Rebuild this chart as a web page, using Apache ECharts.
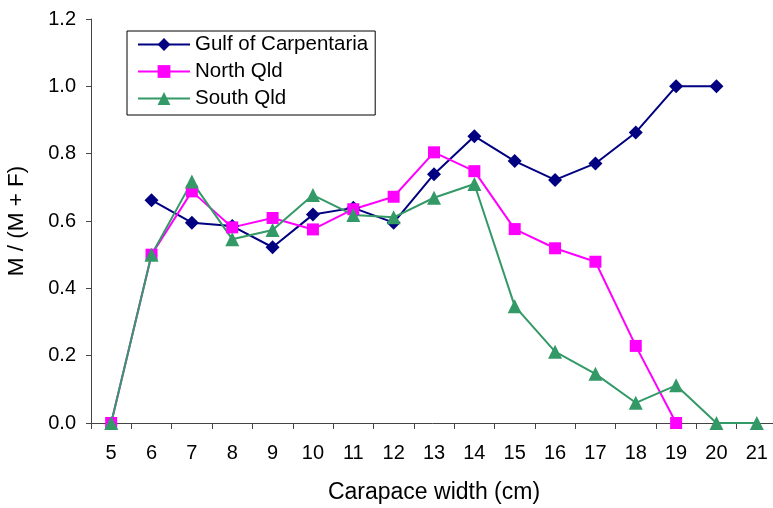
<!DOCTYPE html>
<html>
<head>
<meta charset="utf-8">
<script src="https://cdn.jsdelivr.net/npm/echarts@6/dist/echarts.min.js"></script>
<style>
  html, body { margin: 0; padding: 0; background: #fff; }
  #chart { width: 773px; height: 508px; }
</style>
</head>
<body>
<div id="chart"></div>
<script>
let widths = ['5','6','7','8','9','10','11','12','13','14','15','16','17','18','19','20','21'];
let gulf = [null, 0.662, 0.595, 0.585, 0.522, 0.619, 0.639, 0.595, 0.739, 0.852, 0.778, 0.722, 0.771, 0.863, 1.0, 1.0, null];
let northQld = [0, 0.5, 0.688, 0.581, 0.609, 0.575, 0.635, 0.672, 0.804, 0.748, 0.576, 0.519, 0.479, 0.229, 0, null, null];
let southQld = [0, 0.5, 0.717, 0.546, 0.573, 0.677, 0.618, 0.611, 0.669, 0.710, 0.347, 0.212, 0.146, 0.060, 0.112, 0, 0];

let chart = echarts.init(document.getElementById('chart'));
let font = 'Liberation Sans, Arial, sans-serif';

function line(name, data, color, symbol, size) {
    return {
        name: name,
        type: 'line',
        data: data,
        symbol: symbol,
        symbolSize: size,
        connectNulls: false,
        lineStyle: { color: color, width: 2 },
        itemStyle: { color: color },
        animation: false
    };
}

let option = {
    backgroundColor: '#fff',
    grid: { left: 91, top: 19, right: -4, bottom: 85, outerBoundsMode: 'none' },
    legend: {
        orient: 'vertical',
        left: 127,
        top: 31,
        padding: [3, 7, 6, 10],
        itemGap: 6,
        itemWidth: 52,
        itemHeight: 16,
        borderColor: '#000',
        borderWidth: 1,
        textStyle: { fontFamily: font, fontSize: 20.5, color: '#000' },
        data: ['Gulf of Carpentaria', 'North Qld', 'South Qld']
    },
    xAxis: {
        type: 'category',
        data: widths,
        boundaryGap: true,
        name: 'Carapace width (cm)',
        nameLocation: 'middle',
        nameGap: 58,
        nameTextStyle: { fontFamily: font, fontSize: 23, color: '#000' },
        axisLine: { lineStyle: { color: '#444', width: 1 } },
        axisTick: { show: true, length: 6, alignWithLabel: false, lineStyle: { color: '#444' } },
        axisLabel: { fontFamily: font, fontSize: 20, color: '#000', margin: 20 },
        splitLine: { show: false }
    },
    yAxis: {
        type: 'value',
        min: 0,
        max: 1.2,
        interval: 0.2,
        name: 'M / (M + F)',
        nameLocation: 'middle',
        nameGap: 63,
        nameRotate: 90,
        nameTextStyle: { fontFamily: font, fontSize: 22.5, color: '#000' },
        axisLine: { show: true, lineStyle: { color: '#444', width: 1 } },
        axisTick: { show: true, inside: false, length: 5, lineStyle: { color: '#444' } },
        axisLabel: {
            fontFamily: font, fontSize: 20, color: '#000', margin: 15,
            formatter: function (v) { return v.toFixed(1); }
        },
        splitLine: { show: false }
    },
    series: [
        line('Gulf of Carpentaria', gulf, '#000080', 'diamond', 14),
        line('North Qld', northQld, '#FF00FF', 'rect', 12),
        line('South Qld', southQld, '#339966', 'triangle', 14)
    ]
};

chart.setOption(option);
</script>
</body>
</html>
